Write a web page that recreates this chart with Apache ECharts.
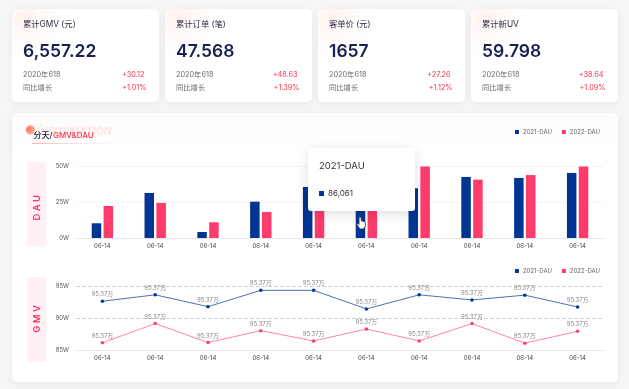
<!DOCTYPE html>
<html>
<head>
<meta charset="utf-8">
<style>
  html, body { margin: 0; padding: 0; background: #f6f6f7; }
  #main { width: 629px; height: 389px; filter: blur(0.35px); }
</style>
<script src="https://cdn.jsdelivr.net/npm/echarts@6/dist/echarts.min.js"></script>
</head>
<body>
<div id="main"></div>
<script>
// card data
var cardTitles = ['累计GMV (元)', '累计订单 (笔)', '客单价 (元)', '累计新UV'];
var cardValues = ['6,557.22', '47.568', '1657', '59.798'];
var cardDeltas = ['+30.12', '+48.63', '+27.26', '+38.64'];
var cardRates = ['+1.01%', '+1.39%', '+1.12%', '+1.09%'];
var cardPeriod = '2020年618';
var cardRateName = '同比增长';

// chart data
var days = ['06-14', '06-14', '06-14', '06-14', '06-14', '06-14', '06-14', '06-14', '06-14', '06-14'];
var dau2021 = [10.3, 31.5, 4.2, 25.4, 35.7, 22, 34.8, 42.7, 42, 45.5];
var dau2022 = [22.4, 24.5, 11, 18.2, 24, 22, 50, 40.8, 44, 50];
var gmv2021 = [92.7, 93.7, 91.85, 94.4, 94.4, 91.5, 93.7, 92.9, 93.65, 91.8];
var gmv2022 = [86.2, 89.2, 86.25, 88.1, 86.5, 88.35, 86.5, 89.2, 86.15, 88];
var gmvLabels = ['95.37万', '95.37万', '95.37万', '95.37万', '95.37万', '95.37万', '95.37万', '95.37万', '95.37万', '95.37万'];

var FONT = 'Inter, "Noto Sans CJK SC", sans-serif';
var BLUE = '#003594';
var PINK = '#ff3b6b';

function txt(x, y, text, size, color, extra) {
  var style = { x: x, y: y, text: text, fontSize: size, fill: color, fontFamily: FONT, verticalAlign: 'middle' };
  for (var k in extra) style[k] = extra[k];
  return { type: 'text', z: 1, style: style, silent: true };
}

var graphics = [];

// 4 top cards
[12, 165, 318, 471].forEach(function (x, i) {
  graphics.push({
    type: 'rect', z: -5, silent: true,
    shape: { x: x, y: 9, width: 147, height: 93, r: 5 },
    style: { fill: '#fff', shadowBlur: 8, shadowColor: 'rgba(0,0,0,0.06)', shadowOffsetY: 2 }
  });
  graphics.push({
    type: 'rect', z: -4, silent: true,
    shape: { x: x, y: 9, width: 147, height: 93, r: 5 },
    style: {
      fill: new echarts.graphic.RadialGradient(0.1, 0.1, 0.5, [
        { offset: 0, color: 'rgba(255,232,226,0.6)' },
        { offset: 1, color: 'rgba(255,255,255,0)' }
      ])
    }
  });
  graphics.push(txt(x + 11, 24.5, cardTitles[i], 8.3, '#2a2d4a'));
  graphics.push(txt(x + 11, 52, cardValues[i], 17.5, '#1a2050', { fontWeight: 600 }));
  graphics.push(txt(x + 11, 75, cardPeriod, 7.3, '#6b6b6b'));
  graphics.push(txt(x + 11, 88, cardRateName, 7.3, '#6b6b6b'));
  graphics.push(txt(x + 132.5, 75, cardDeltas[i], 7.3, '#ff3146', { align: 'right' }));
  graphics.push(txt(x + 134.5, 88, cardRates[i], 7.3, '#ff3146', { align: 'right' }));
});

// panel
graphics.push({
  type: 'rect', z: -5, silent: true,
  shape: { x: 12, y: 113, width: 606, height: 269, r: 5 },
  style: {
    fill: new echarts.graphic.LinearGradient(0, 0, 0, 1, [
      { offset: 0, color: '#fcfcfc' },
      { offset: 0.15, color: '#ffffff' },
      { offset: 1, color: '#ffffff' }
    ]),
    shadowBlur: 8, shadowColor: 'rgba(0,0,0,0.06)', shadowOffsetY: 2
  }
});

// heading
graphics.push(txt(37, 132, 'INFORMATION', 10.5, '#ffe4e4', { fontWeight: 700, fontStyle: 'italic' }));
graphics.push({
  type: 'circle', z: 0, silent: true,
  shape: { cx: 30.5, cy: 130, r: 4.7 },
  style: {
    fill: new echarts.graphic.RadialGradient(0.3, 0.4, 0.75, [
      { offset: 0, color: '#ff6f5a' },
      { offset: 1, color: '#ffc2b4' }
    ])
  }
});
graphics.push({ type: 'circle', z: 0, silent: true, shape: { cx: 41, cy: 125, r: 0.8 }, style: { fill: '#ffc8bd' } });
graphics.push({
  type: 'rect', z: 0, silent: true,
  shape: { x: 32, y: 143, width: 95, height: 1 },
  style: {
    fill: new echarts.graphic.LinearGradient(0, 0, 1, 0, [
      { offset: 0, color: '#ffb4b4' },
      { offset: 1, color: 'rgba(255,220,220,0)' }
    ])
  }
});
graphics.push(txt(33.5, 136, '分天/', 8, '#23254a', { fontWeight: 500 }));
graphics.push(txt(53, 136, 'GMV&DAU', 8, '#ff3146', { fontWeight: 500 }));

// side tags
[[162, 207.7, 'D A U'], [277, 319, 'G M V']].forEach(function (t) {
  graphics.push({
    type: 'rect', z: -1, silent: true,
    shape: { x: 27, y: t[0], width: 19, height: 84.5, r: 2 },
    style: { fill: '#fff0f4' }
  });
  graphics.push({
    type: 'text', z: 1, silent: true,
    x: 37, y: t[1], rotation: Math.PI / 2,
    style: { x: 0, y: 0, text: t[2], fontSize: 9.5, fontWeight: 600, fill: '#ff2d6e', fontFamily: FONT, align: 'center', verticalAlign: 'middle' }
  });
});

// mouse pointer over the 6th blue bar
graphics.push({
  type: 'polygon', z: 50, silent: true,
  shape: { points: [[359, 217], [361, 217], [361.5, 221], [365, 221.5], [365.5, 226], [363.5, 229], [360, 229], [356.5, 224], [358, 223.5], [359, 224.5]] },
  style: { fill: '#fff', stroke: '#333', lineWidth: 0.8 }
});

var legendBase = {
  right: 24, itemWidth: 4, itemHeight: 4, itemGap: 10, icon: 'rect',
  textStyle: { fontSize: 6, color: '#666', fontFamily: FONT, padding: [0, 0, 0, -1] },
  data: ['2021-DAU', '2022-DAU']
};

function axisX(i) {
  return {
    type: 'category', gridIndex: i, data: days,
    axisTick: { show: false },
    axisLine: { lineStyle: { color: '#e6e6e8' } },
    axisLabel: { fontSize: 6, color: '#444', margin: 5, fontFamily: FONT, interval: 0 }
  };
}

function axisY(i, min, max, step, lineColor, lineType) {
  return {
    type: 'value', gridIndex: i, min: min, max: max, interval: step,
    axisLine: { show: false }, axisTick: { show: false },
    axisLabel: { fontSize: 6, color: '#555', margin: 7, fontFamily: FONT, formatter: '{value}W' },
    splitLine: { lineStyle: { color: lineColor, type: lineType } }
  };
}

function lineSeries(name, values, color, lineColor) {
  return {
    name: name, type: 'line', xAxisIndex: 1, yAxisIndex: 1, data: values,
    symbol: 'circle', symbolSize: 3.5, showSymbol: true,
    itemStyle: { color: color },
    lineStyle: { color: lineColor, width: 1 },
    label: {
      show: true, position: 'top', distance: 2, fontSize: 6, color: '#888', fontFamily: FONT,
      formatter: function (p) { return gmvLabels[p.dataIndex]; }
    }
  };
}

var chart = echarts.init(document.getElementById('main'));
chart.setOption({
  animation: false,
  backgroundColor: '#f6f6f7',
  textStyle: { fontFamily: FONT },
  graphic: graphics,
  legend: [
    Object.assign({ top: 124 }, legendBase),
    Object.assign({ top: 263 }, legendBase)
  ],
  tooltip: {
    trigger: 'item', alwaysShowContent: true, transitionDuration: 0,
    position: [308, 148],
    padding: 0, borderWidth: 0, backgroundColor: '#fff',
    extraCssText: 'border-radius:3px;box-shadow:0 3px 12px rgba(0,0,0,0.13);',
    formatter: function (p) {
      return '<div style="width:107px;height:63px;position:relative;font-family:Inter,sans-serif;color:#333;">' +
        '<div style="position:absolute;left:11px;top:11px;font-size:9.5px;line-height:14px;">' + p.seriesName + '</div>' +
        '<span style="position:absolute;left:11px;top:43px;width:5px;height:5px;background:' + BLUE + ';"></span>' +
        '<div style="position:absolute;left:20px;top:40px;font-size:8px;line-height:11px;">86,061</div></div>';
    }
  },
  grid: [
    { left: 76, right: 25, top: 166.5, height: 71.5 },
    { left: 76, right: 25, top: 286.5, height: 64 }
  ],
  xAxis: [axisX(0), axisX(1)],
  yAxis: [
    axisY(0, 0, 50, 25, '#ececee', 'dotted'),
    axisY(1, 85, 95, 5, '#d2d2d4', 'dashed')
  ],
  series: [
    { name: '2021-DAU', type: 'bar', data: dau2021, barWidth: 9.5, barGap: '25%', itemStyle: { color: BLUE } },
    { name: '2022-DAU', type: 'bar', data: dau2022, barWidth: 9.5, barGap: '25%', itemStyle: { color: PINK } },
    lineSeries('2021-DAU', gmv2021, BLUE, '#4a74b4'),
    lineSeries('2022-DAU', gmv2022, PINK, '#ff86a4')
  ]
});
chart.dispatchAction({ type: 'showTip', seriesIndex: 0, dataIndex: 5 });
</script>
</body>
</html>
